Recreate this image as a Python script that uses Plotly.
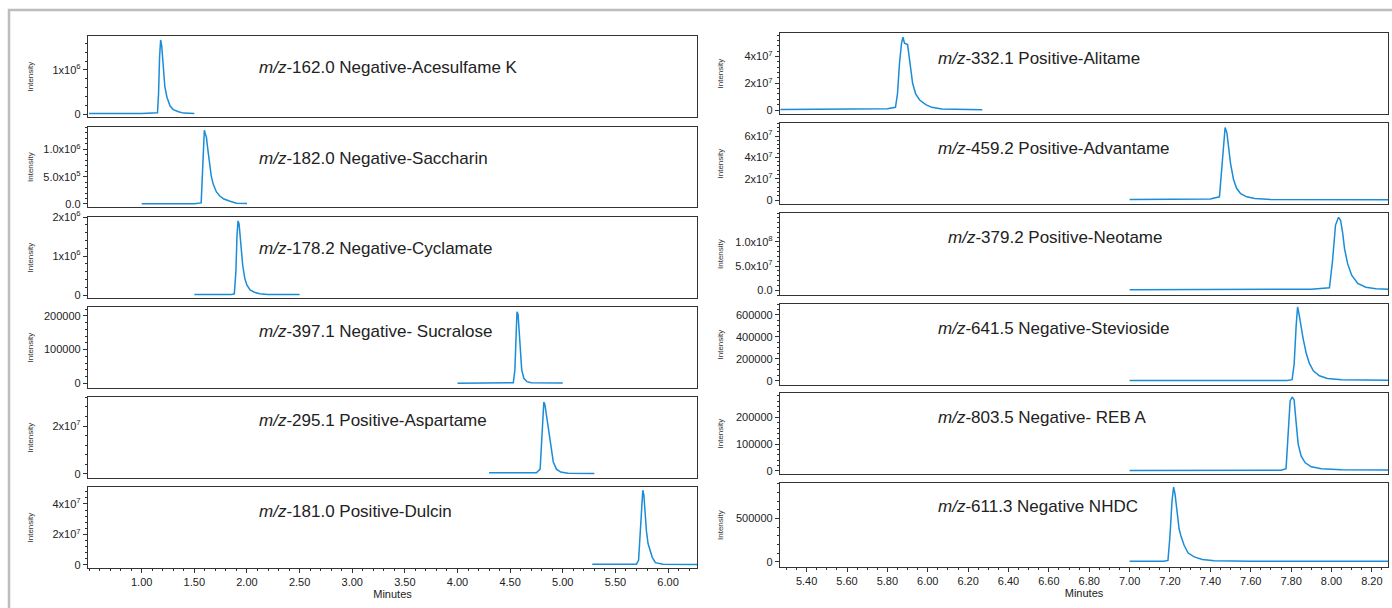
import plotly.graph_objects as go

# ---------------- data ----------------
titles = [
    "<i>m/z</i>-162.0 Negative-Acesulfame K",
    "<i>m/z</i>-182.0 Negative-Saccharin",
    "<i>m/z</i>-178.2 Negative-Cyclamate",
    "<i>m/z</i>-397.1 Negative- Sucralose",
    "<i>m/z</i>-295.1 Positive-Aspartame",
    "<i>m/z</i>-181.0 Positive-Dulcin",
    "<i>m/z</i>-332.1 Positive-Alitame",
    "<i>m/z</i>-459.2 Positive-Advantame",
    "<i>m/z</i>-379.2 Positive-Neotame",
    "<i>m/z</i>-641.5 Negative-Stevioside",
    "<i>m/z</i>-803.5 Negative- REB A",
    "<i>m/z</i>-611.3 Negative NHDC",
]

acesulfame_t = [0.50, 1.00, 1.15, 1.16, 1.17, 1.18, 1.19, 1.20, 1.21, 1.22, 1.24, 1.27, 1.30, 1.35, 1.40, 1.50]
acesulfame_i = [1e4, 1e4, 3e4, 4.5e5, 1.30e6, 1.68e6, 1.55e6, 1.15e6, 8.5e5, 6.2e5, 3.8e5, 1.8e5, 1.0e5, 5e4, 2e4, 1e4]

saccharin_t = [1.00, 1.50, 1.565, 1.575, 1.585, 1.595, 1.605, 1.615, 1.625, 1.64, 1.66, 1.68, 1.71, 1.74, 1.78, 1.84, 1.90, 2.00]
saccharin_i = [5e3, 5e3, 2e4, 4.5e5, 1.05e6, 1.35e6, 1.28e6, 1.22e6, 1.05e6, 8.0e5, 5.2e5, 3.6e5, 2.2e5, 1.5e5, 9e4, 5e4, 1.5e4, 1e4]

cyclamate_t = [1.50, 1.85, 1.88, 1.895, 1.905, 1.915, 1.925, 1.935, 1.945, 1.96, 1.98, 2.00, 2.03, 2.07, 2.12, 2.20, 2.50]
cyclamate_i = [1e4, 1e4, 3e4, 6e5, 1.5e6, 1.9e6, 1.82e6, 1.55e6, 1.15e6, 7.5e5, 4.2e5, 2.5e5, 1.3e5, 7e4, 3e4, 1e4, 1e4]

sucralose_t = [4.00, 4.50, 4.53, 4.545, 4.555, 4.565, 4.575, 4.585, 4.595, 4.61, 4.63, 4.66, 4.70, 5.00]
sucralose_i = [500, 500, 2000, 40000, 150000, 212000, 205000, 160000, 95000, 40000, 15000, 5000, 2000, 1000]

aspartame_t = [4.30, 4.75, 4.785, 4.80, 4.81, 4.82, 4.83, 4.84, 4.85, 4.86, 4.875, 4.89, 4.91, 4.94, 4.98, 5.05, 5.30]
aspartame_i = [5e5, 5e5, 2e6, 1.5e7, 2.6e7, 3.0e7, 2.9e7, 2.6e7, 2.3e7, 1.9e7, 1.4e7, 9e6, 5e6, 2e6, 8e5, 3e5, 2e5]

dulcin_t = [5.28, 5.70, 5.72, 5.735, 5.75, 5.76, 5.77, 5.78, 5.795, 5.81, 5.83, 5.85, 5.88, 5.95, 6.28]
dulcin_i = [5e5, 5e5, 3e6, 2.0e7, 4.2e7, 4.9e7, 4.6e7, 3.5e7, 2.2e7, 1.4e7, 9e6, 5e6, 1.5e6, 5e5, 3e5]

alitame_t = [5.27, 5.60, 5.80, 5.84, 5.85, 5.86, 5.87, 5.877, 5.885, 5.90, 5.91, 5.925, 5.94, 5.96, 5.99, 6.02, 6.07, 6.15, 6.27]
alitame_i = [3e5, 5e5, 1e6, 2e6, 1.2e7, 3.5e7, 5.0e7, 5.45e7, 5.0e7, 4.9e7, 3.8e7, 2.0e7, 1.2e7, 7.5e6, 4e6, 2e6, 7e5, 3e5, 2e5]

advantame_t = [7.00, 7.40, 7.445, 7.455, 7.465, 7.473, 7.482, 7.49, 7.50, 7.515, 7.53, 7.55, 7.58, 7.62, 7.70, 8.28]
advantame_i = [5e5, 1e6, 3e6, 2.5e7, 5.5e7, 6.8e7, 6.3e7, 5.0e7, 3.4e7, 1.9e7, 1.1e7, 6e6, 3e6, 1.5e6, 5e5, 3e5]

neotame_t = [7.00, 7.90, 7.99, 8.005, 8.02, 8.035, 8.045, 8.055, 8.065, 8.08, 8.10, 8.13, 8.17, 8.22, 8.28]
neotame_i = [1e6, 2e6, 5e6, 6e7, 1.35e8, 1.51e8, 1.45e8, 1.2e8, 8.5e7, 5.5e7, 3.1e7, 1.4e7, 6e6, 3e6, 2e6]

stevioside_t = [7.00, 7.78, 7.805, 7.815, 7.825, 7.832, 7.84, 7.85, 7.86, 7.875, 7.89, 7.91, 7.94, 7.98, 8.05, 8.28]
stevioside_i = [1000, 3000, 10000, 150000, 500000, 673000, 600000, 480000, 380000, 250000, 160000, 90000, 45000, 20000, 8000, 5000]

reba_t = [7.00, 7.75, 7.775, 7.785, 7.795, 7.805, 7.815, 7.825, 7.835, 7.85, 7.87, 7.90, 7.95, 8.05, 8.28]
reba_i = [1000, 2000, 8000, 120000, 260000, 276000, 265000, 180000, 100000, 55000, 30000, 15000, 8000, 4000, 3000]

nhdc_t = [7.00, 7.17, 7.19, 7.20, 7.21, 7.218, 7.225, 7.235, 7.245, 7.255, 7.27, 7.29, 7.32, 7.36, 7.42, 7.60, 8.28]
nhdc_i = [5000, 6000, 15000, 300000, 700000, 860000, 780000, 560000, 380000, 290000, 190000, 100000, 55000, 25000, 10000, 6000, 5000]

series_t = [acesulfame_t, saccharin_t, cyclamate_t, sucralose_t, aspartame_t, dulcin_t,
            alitame_t, advantame_t, neotame_t, stevioside_t, reba_t, nhdc_t]
series_i = [acesulfame_i, saccharin_i, cyclamate_i, sucralose_i, aspartame_i, dulcin_i,
            alitame_i, advantame_i, neotame_i, stevioside_i, reba_i, nhdc_i]

# y tick values / labels per panel
ytick_vals = [
    [0, 1e6],
    [0, 5e5, 1e6],
    [0, 1e6, 2e6],
    [0, 100000, 200000],
    [0, 2e7],
    [0, 2e7, 4e7],
    [0, 2e7, 4e7],
    [0, 2e7, 4e7, 6e7],
    [0, 5e7, 1e8],
    [0, 200000, 400000, 600000],
    [0, 100000, 200000],
    [0, 500000],
]
ytick_text = [
    ["0", "1x10<sup>6</sup>"],
    ["0.0", "5.0x10<sup>5</sup>", "1.0x10<sup>6</sup>"],
    ["0", "1x10<sup>6</sup>", "2x10<sup>6</sup>"],
    ["0", "100000", "200000"],
    ["0", "2x10<sup>7</sup>"],
    ["0", "2x10<sup>7</sup>", "4x10<sup>7</sup>"],
    ["0", "2x10<sup>7</sup>", "4x10<sup>7</sup>"],
    ["0", "2x10<sup>7</sup>", "4x10<sup>7</sup>", "6x10<sup>7</sup>"],
    ["0.0", "5.0x10<sup>7</sup>", "1.0x10<sup>8</sup>"],
    ["0", "200000", "400000", "600000"],
    ["0", "100000", "200000"],
    ["0", "500000"],
]
left_xticks = [1.00, 1.50, 2.00, 2.50, 3.00, 3.50, 4.00, 4.50, 5.00, 5.50, 6.00]
right_xticks = [5.40, 5.60, 5.80, 6.00, 6.20, 6.40, 6.60, 6.80, 7.00, 7.20, 7.40, 7.60, 7.80, 8.00, 8.20]

# ---------------- layout / styling ----------------
W, H = 1392, 608
LINE = "#1a8cd8"
AX = "#333333"
FONT = "Arial, Liberation Sans, sans-serif"

y_ranges = [
    [-0.068e6, 1.77e6], [-0.055e6, 1.408e6], [-0.077e6, 2.0e6],
    [-13700, 226000], [-0.17e7, 3.21e7], [-0.2e7, 5.11e7],
    [-0.3e7, 5.77e7], [-0.375e7, 7.22e7], [-0.1e8, 1.6e8],
    [-39000, 700000], [-12000, 291000], [-61000, 908000],
]
y_minor = [2e5, 1e5, 2e5, 2e4, 4e6, 4e6, 4e6, 4e6, 1e7, 5e4, 2e4, 1e5]
panels_px = [(36, 117), (127, 207), (217, 298), (307, 388), (397, 478), (487, 568),
             (33, 114), (123, 204), (213, 295), (304, 385), (393, 474), (483, 567)]
col_px = [(88, 697), (780, 1388)]
x_ranges = [[0.49, 6.275], [5.268, 8.28]]
text_x_px = [257, 257, 257, 257, 257, 257, 936, 936, 946, 936, 936, 936]
text_y_px = [67, 158, 248, 331, 420, 511, 59, 149, 237, 329, 417, 506]

fig = go.Figure()
layout = {}
annotations = []

for k in range(12):
    n = k + 1
    col = 0 if k < 6 else 1
    bottom = (k % 6) == 5
    xa = "x" if n == 1 else f"x{n}"
    ya = "y" if n == 1 else f"y{n}"
    fig.add_trace(go.Scatter(x=series_t[k], y=series_i[k], mode="lines",
                             line=dict(color=LINE, width=1.5),
                             xaxis=xa, yaxis=ya, showlegend=False, hoverinfo="skip"))
    top, bot = panels_px[k]
    x0, x1 = col_px[col]
    xkey = "xaxis" if n == 1 else f"xaxis{n}"
    ykey = "yaxis" if n == 1 else f"yaxis{n}"
    xd = dict(domain=[x0 / W, x1 / W], range=x_ranges[col], anchor=ya,
              showline=True, linecolor=AX, linewidth=1.3, mirror=True,
              showgrid=False, zeroline=False, fixedrange=True, automargin=False)
    if bottom:
        xd.update(tickmode="array",
                  tickvals=left_xticks if col == 0 else right_xticks,
                  ticktext=[f"{v:.2f}" for v in (left_xticks if col == 0 else right_xticks)],
                  ticks="outside", ticklen=4, tickcolor=AX, tickwidth=1,
                  tickfont=dict(family=FONT, size=11, color="#222"),
                  minor=dict(ticks="outside", ticklen=2, tickcolor=AX,
                             dtick=0.1 if col == 0 else 0.05, tick0=0),
                  title=dict(text="Minutes", font=dict(family=FONT, size=11, color="#222"),
                             standoff=2))
    else:
        xd.update(showticklabels=False, ticks="")
    layout[xkey] = xd
    layout[ykey] = dict(domain=[1 - bot / H, 1 - top / H], range=y_ranges[k], anchor=xa,
                        showline=True, linecolor=AX, linewidth=1.3, mirror=True,
                        showgrid=False, zeroline=False, fixedrange=True, automargin=False,
                        tickmode="array", tickvals=ytick_vals[k], ticktext=ytick_text[k],
                        ticks="outside", ticklen=4, tickcolor=AX, tickwidth=1,
                        tickfont=dict(family=FONT, size=11, color="#222"),
                        minor=dict(ticks="outside", ticklen=2, tickcolor=AX,
                                   dtick=y_minor[k], tick0=0))
    annotations.append(dict(text=titles[k], xref="paper", yref="paper",
                            x=text_x_px[k] / W, y=1 - text_y_px[k] / H,
                            xanchor="left", yanchor="middle", showarrow=False,
                            font=dict(family=FONT, size=17, color="#222")))
    annotations.append(dict(text="Intensity", xref="paper", yref="paper",
                            x=(30 if col == 0 else 720) / W,
                            y=1 - ((top + bot) / 2) / H, textangle=-90,
                            xanchor="center", yanchor="middle", showarrow=False,
                            font=dict(family=FONT, size=8, color="#333")))

fig.update_layout(
    width=W, height=H, margin=dict(l=0, r=0, t=0, b=0, autoexpand=False),
    paper_bgcolor="white", plot_bgcolor="white",
    annotations=annotations,
    shapes=[dict(type="rect", xref="paper", yref="paper",
                 x0=9 / W, x1=1.02, y0=-0.05, y1=1 - 10 / H,
                 line=dict(color="#bdbdbd", width=2.5), fillcolor="rgba(0,0,0,0)",
                 layer="below")],
    **layout,
)

fig.write_html("out.html")
